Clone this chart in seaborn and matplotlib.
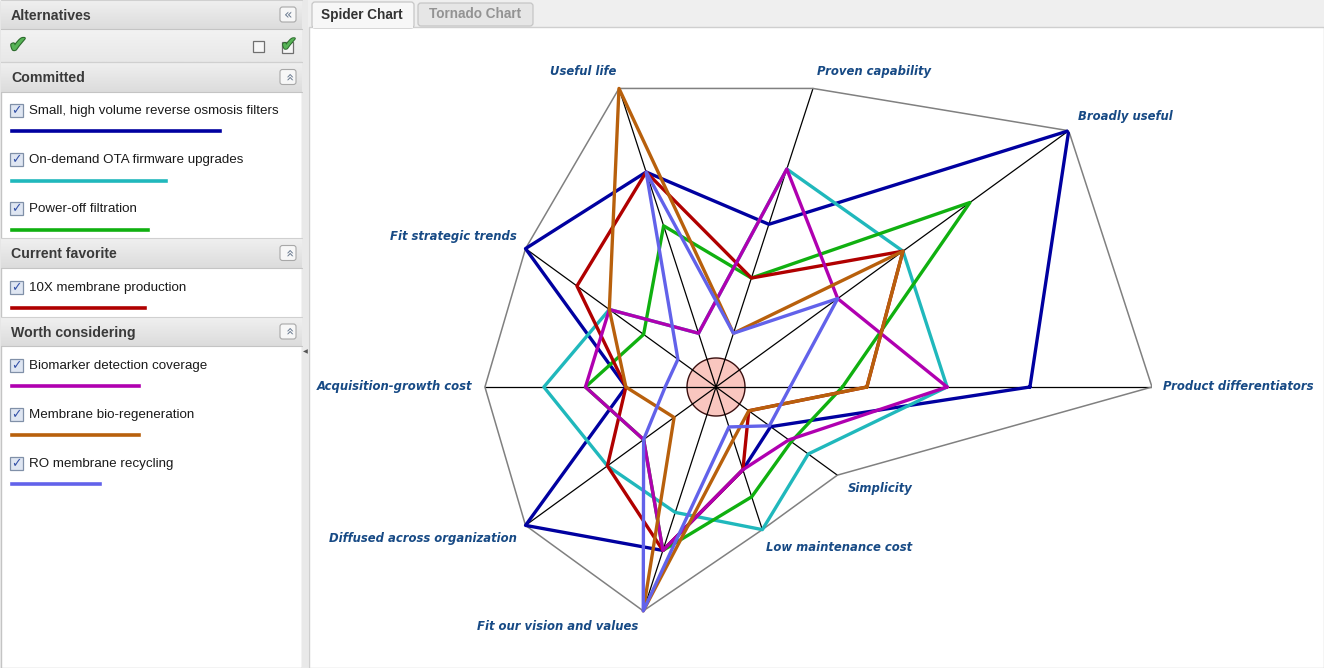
import numpy as np
import pandas as pd
import matplotlib
matplotlib.use("Agg")
import matplotlib.pyplot as plt
import seaborn as sns
from matplotlib.patches import Rectangle, FancyBboxPatch
import matplotlib.patheffects as pe

# ---------------- data ----------------
criteria = ["Product differentiators", "Broadly useful", "Proven capability", "Useful life",
            "Fit strategic trends", "Acquisition-growth cost", "Diffused across organization",
            "Fit our vision and values", "Low maintenance cost", "Simplicity"]
# relative reach of each criterion axis (weight, % of the longest)
criterion_weight = [100, 100, 72, 72, 54, 53, 54, 54, 34.4, 34.4]

alternatives = ["Small, high volume reverse osmosis filters", "On-demand OTA firmware upgrades",
                "Power-off filtration", "10X membrane production", "Biomarker detection coverage",
                "Membrane bio-regeneration", "RO membrane recycling"]
groups = ["Committed", "Committed", "Committed", "Current favorite",
          "Worth considering", "Worth considering", "Worth considering"]
colors = ["#0000a0", "#20b8bc", "#10b010", "#b00000", "#b000b0", "#b8600c", "#6262ea"]
overall_score = [213, 159, 141, 138, 132, 132, 93]

# scores per criterion, in % of that criterion's axis
score_filters   = [72, 100, 54.5, 72, 100, 39, 100, 73, 58, 45]
score_ota       = [53, 53, 73, 18, 56, 74.5, 57, 56, 100, 76]
score_poweroff  = [29, 72, 36.5, 54, 38, 56.5, 38, 73, 77, 62]
score_membrane  = [34.6, 53, 36.5, 72, 73, 39, 57, 73, 58, 27]
score_biomarker = [53, 34.5, 73, 18, 56, 56.5, 38, 73, 58, 60]
score_regen     = [34.6, 53, 18, 100, 56, 39, 22, 100, 37, 27]
score_recycling = [17, 34.5, 18, 72, 20, 22, 38, 100, 28, 44]
all_scores = [score_filters, score_ota, score_poweroff, score_membrane,
              score_biomarker, score_regen, score_recycling]

# ---------------- figure ----------------
W, H = 1324, 668
sns.set_theme(style="white")
plt.rcParams['font.family'] = ['DejaVu Sans']
fig = plt.figure(figsize=(W / 100, H / 100), dpi=100)
fig.patch.set_facecolor('#efefef')

ui = fig.add_axes([0, 0, 1, 1])
ui.set_xlim(0, W)
ui.set_ylim(H, 0)
ui.axis('off')
ui.set_zorder(0)

UI_FONT = ['Liberation Sans', 'DejaVu Sans']

# left panel
ui.add_patch(Rectangle((0.5, 0.5), 301.5, H - 1, fc='white', ec='#c4c4c4', lw=1))
grad = np.linspace(0, 1, 30).reshape(-1, 1)
def header(y0, y1, text, button='up'):
    ui.imshow(grad, extent=(1, 302, y1, y0), cmap=matplotlib.colors.LinearSegmentedColormap.from_list(
        'g', ['#f0f0f0', '#dcdcdc']), aspect='auto', zorder=1)
    ui.plot([1, 302], [y1, y1], color='#c4c4c4', lw=0.8, zorder=2)
    ui.plot([1, 302], [y0, y0], color='#d0d0d0', lw=0.8, zorder=2)
    ui.text(11, (y0 + y1) / 2 + 1.5, text, fontsize=10.2, fontweight='bold', color='#3a3a3a',
            va='center', ha='left', family=UI_FONT, zorder=3)
    cy_ = (y0 + y1) / 2
    ui.add_patch(FancyBboxPatch((280, cy_ - 7.5), 16, 15, boxstyle='round,pad=0,rounding_size=2.5',
                                fc='#f7f7f7', ec='#a8a8a8', lw=0.8, zorder=3))
    ui.text(288, cy_, '«', fontsize=10, color='#6a7a90', ha='center', va='center',
            rotation=0 if button == 'left' else -90, zorder=4)

header(0, 29, 'Alternatives', 'left')
ui.imshow(grad, extent=(1, 302, 62, 30), cmap=matplotlib.colors.LinearSegmentedColormap.from_list(
    'g2', ['#f2f2f2', '#e8e8e8']), aspect='auto', zorder=1)
ui.plot([1, 302], [61.5, 61.5], color='#c4c4c4', lw=0.8, zorder=2)
ui.text(18, 46, '✔', fontsize=16, color='#56b356', ha='center', va='center', zorder=4,
        path_effects=[pe.withStroke(linewidth=1.6, foreground='#2c6a2c')])
ui.add_patch(Rectangle((253, 41), 11, 11, fc='#f6f6f6', ec='#707070', lw=0.9, zorder=3))
ui.add_patch(Rectangle((282, 42), 11, 11, fc='#f6f6f6', ec='#707070', lw=0.9, zorder=3))
ui.text(289, 45, '✔', fontsize=14, color='#56b356', ha='center', va='center', zorder=4,
        path_effects=[pe.withStroke(linewidth=1.4, foreground='#2c6a2c')])

header(62, 92, 'Committed')
header(238, 268, 'Current favorite')
header(317, 346, 'Worth considering')

item_y = [110, 159, 208, 287, 365, 414, 463]
bar_y = [130, 180, 229, 307, 385, 434.5, 483]
for name, yy in zip(alternatives, item_y):
    ui.add_patch(Rectangle((9.5, yy - 6.5), 13, 13, fc='#dfe6f2', ec='#8090a8', lw=0.9, zorder=3))
    ui.text(16, yy + 0.5, '✓', fontsize=9, color='#3552a8', ha='center', va='center',
            fontweight='bold', zorder=4)
    ui.text(29, yy + 1.2, name, fontsize=9.6, color='#1a1a1a', ha='left', va='center',
            family=UI_FONT, zorder=4)
ui.barh(bar_y, overall_score, left=9, height=5, color=colors, zorder=3)

# splitter
ui.add_patch(Rectangle((302, 0), 6, H, fc='#e9e9e9', ec='none', zorder=1))
ui.text(305, 352, '◀', fontsize=4.5, color='#555555', ha='center', va='center', zorder=2)

# tab strip and content
ui.add_patch(Rectangle((308.5, 27), W - 309, H - 27, fc='white', ec='#cfcfcf', lw=1, zorder=1))
ui.add_patch(FancyBboxPatch((312, 2), 102, 26, boxstyle='round,pad=0,rounding_size=3',
                            fc='#f7f7f7', ec='#c6c6c6', lw=0.9, zorder=2))
ui.add_patch(FancyBboxPatch((418, 3), 115, 23, boxstyle='round,pad=0,rounding_size=3',
                            fc='#e6e6e6', ec='#c6c6c6', lw=0.9, zorder=2))
ui.add_patch(Rectangle((313, 24), 100, 4, fc='#f7f7f7', ec='none', zorder=3))
ui.text(362, 14.5, 'Spider Chart', fontsize=9.8, fontweight='bold', color='#333333',
        ha='center', va='center', family=UI_FONT, zorder=4)
ui.text(475, 14.5, 'Tornado Chart', fontsize=9.8, fontweight='bold', color='#939393',
        ha='center', va='center', family=UI_FONT, zorder=4)

# ---------------- spider chart ----------------
R_PX = 436.0
CX, CY = 716, 387
ax = fig.add_axes([(CX - R_PX) / W, (H - CY - R_PX) / H, 2 * R_PX / W, 2 * R_PX / H],
                  projection='polar')
ax.set_zorder(2)
ax.set_theta_zero_location('E')
ax.set_theta_direction(1)
ax.set_ylim(0, 100)
ax.axis('off')

n = len(criteria)
theta = np.arange(n) * 2 * np.pi / n
weight = np.array(criterion_weight)

# hub
hub = 29 / R_PX * 100
tt = np.linspace(0, 2 * np.pi, 200)
ax.fill(tt, np.full_like(tt, hub), facecolor='#f9c6bf', edgecolor='#3a1010', lw=1.0, zorder=1)

# spokes and outer frame
for t, w in zip(theta, weight):
    ax.plot([t, t], [0, w], color='black', lw=0.9, zorder=2)
ax.plot(np.append(theta, theta[0]), np.append(weight, weight[0]), color='#808080', lw=1.1, zorder=2)

rows = []
for name, sc in zip(alternatives, all_scores):
    sc = np.array(sc)
    r = weight * sc / 100.0
    for t, rv in zip(np.append(theta, theta[0]), np.append(r, r[0])):
        rows.append({'alternative': name, 'theta': t, 'r': rv})
df = pd.DataFrame(rows)
sns.lineplot(data=df, x='theta', y='r', hue='alternative', hue_order=alternatives,
             palette=colors, sort=False, estimator=None, lw=2.4, legend=False, ax=ax, zorder=3)

# criterion labels (offsets in pixels)
label_offsets = [(11, 0, 'left'), (9, 14, 'left'), (4, 17, 'left'), (-3, 17, 'right'),
                 (-9, 12, 'right'), (-13, 0, 'right'), (-9, -13, 'right'), (-5, -16, 'right'),
                 (4, -18, 'left'), (10, -13, 'left')]
for name, t, w, (dx, dy, ha) in zip(criteria, theta, weight, label_offsets):
    ax.annotate(name, xy=(t, w), xytext=(dx, dy), textcoords='offset pixels', ha=ha, va='center',
                fontsize=8.4, fontweight='bold', fontstyle='italic', color='#174a85',
                annotation_clip=False)

fig.savefig('out.png', dpi=100)
